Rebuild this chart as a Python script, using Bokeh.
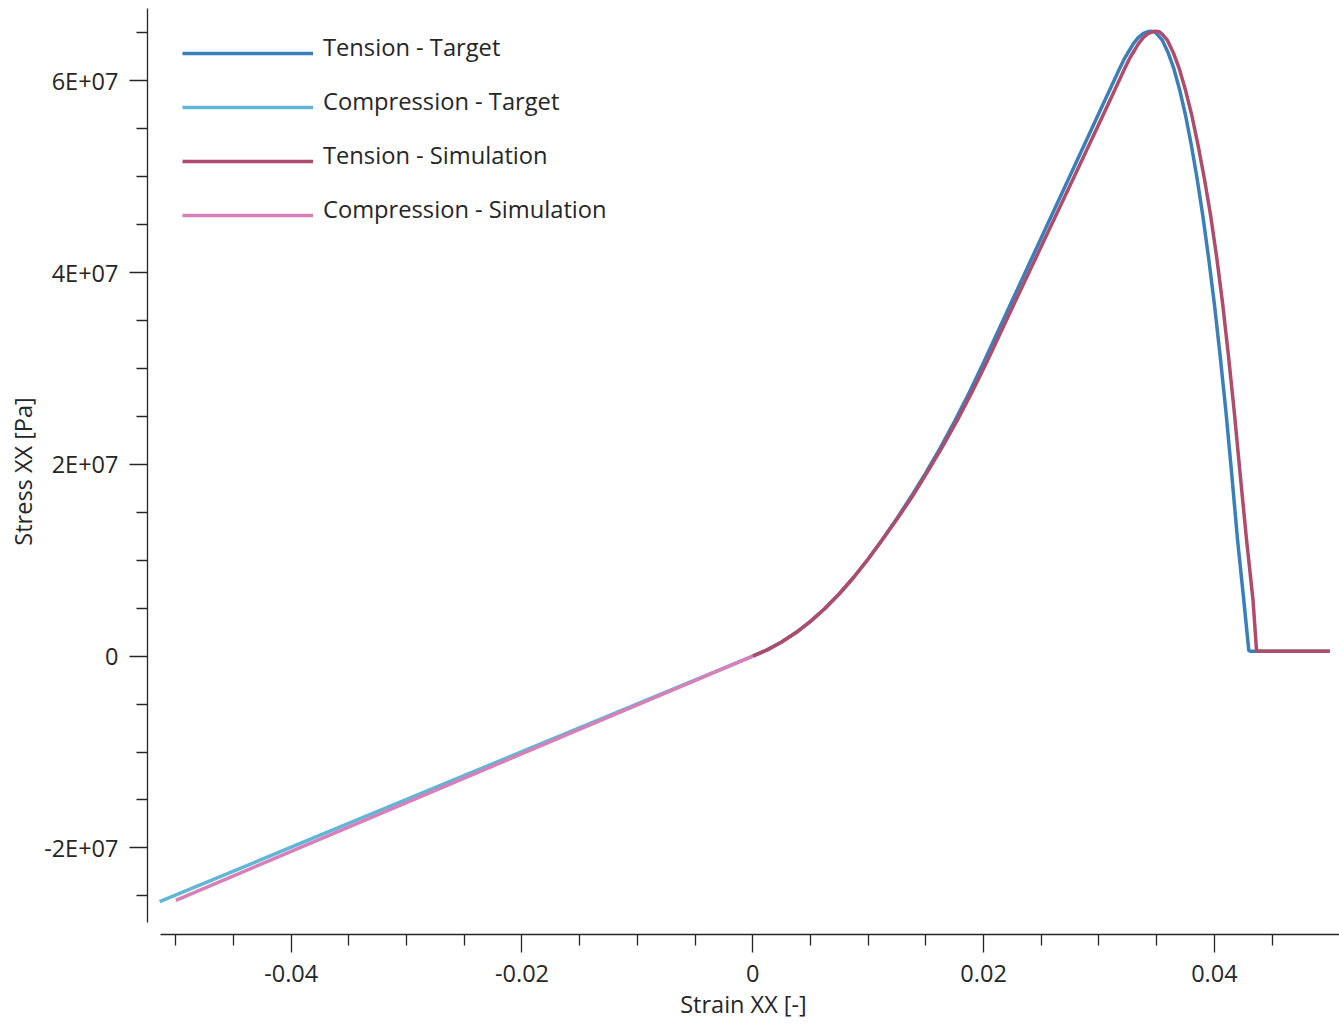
from bokeh.plotting import figure
from bokeh.models import FixedTicker, Legend, LegendItem, Range1d
from bokeh.embed import file_html
from bokeh.resources import INLINE

# ---- data ----
tension_target_strain = [0, 0.00125, 0.0025, 0.00375, 0.005, 0.00625, 0.0075, 0.00875, 0.01, 0.01125,
                         0.0125, 0.01375, 0.015, 0.01625, 0.0175, 0.01875, 0.02, 0.0225, 0.025, 0.0275,
                         0.03, 0.0318, 0.0322, 0.0326, 0.033, 0.0334, 0.0338, 0.0342, 0.03446, 0.0348,
                         0.035, 0.0355, 0.036, 0.0365, 0.037, 0.0375, 0.038, 0.0385, 0.039, 0.0395,
                         0.04, 0.0405, 0.041, 0.0415, 0.042, 0.04255, 0.04298, 0.04313, 0.05]
tension_target_stress = [0, 6.48e5, 1.47e6, 2.46e6, 3.625e6, 4.97e6, 6.5e6, 8.22e6, 1.0125e7, 1.219e7,
                         1.4375e7, 1.669e7, 1.9125e7, 2.172e7, 2.45e7, 2.747e7, 3.0625e7, 3.7125e7, 4.3625e7, 5.0125e7,
                         5.6625e7, 6.13e7, 6.23e7, 6.31e7, 6.39e7, 6.45e7, 6.49e7, 6.51e7, 6.515e7, 6.51e7,
                         6.49e7, 6.42e7, 6.29e7, 6.12e7, 5.90e7, 5.64e7, 5.33e7, 4.98e7, 4.59e7, 4.15e7,
                         3.67e7, 3.13e7, 2.55e7, 1.9e7, 1.22e7, 5.8e6, 6.0e5, 5.0e5, 5.0e5]

tension_sim_strain = [0, 0.00125, 0.0025, 0.00375, 0.005, 0.00625, 0.0075, 0.00875, 0.01, 0.01125,
                      0.01255, 0.01385, 0.0151, 0.01638, 0.01768, 0.01897, 0.02026, 0.0228, 0.02535, 0.0279,
                      0.03044, 0.03224, 0.03264, 0.03304, 0.03344, 0.03384, 0.03424, 0.03464, 0.0349, 0.03524,
                      0.03544, 0.03594, 0.03645, 0.03697, 0.0375, 0.03804, 0.03858, 0.03913, 0.03968, 0.04021,
                      0.04072, 0.04122, 0.04172, 0.04223, 0.04278, 0.04335, 0.04365, 0.04382, 0.05]
tension_sim_stress = [0, 6.48e5, 1.47e6, 2.46e6, 3.625e6, 4.97e6, 6.5e6, 8.22e6, 1.0125e7, 1.219e7,
                      1.4375e7, 1.669e7, 1.9125e7, 2.172e7, 2.45e7, 2.747e7, 3.0625e7, 3.7125e7, 4.3625e7, 5.0125e7,
                      5.6625e7, 6.13e7, 6.23e7, 6.31e7, 6.39e7, 6.45e7, 6.49e7, 6.51e7, 6.515e7, 6.51e7,
                      6.49e7, 6.42e7, 6.29e7, 6.12e7, 5.90e7, 5.64e7, 5.33e7, 4.98e7, 4.59e7, 4.15e7,
                      3.67e7, 3.13e7, 2.55e7, 1.9e7, 1.22e7, 5.8e6, 6.0e5, 5.0e5, 5.0e5]

compression_target_strain = [0, -0.02, -0.04, -0.0514]
compression_target_stress = [0, -9.96e6, -1.993e7, -2.56e7]

compression_sim_strain = [0, -0.02, -0.04, -0.05]
compression_sim_stress = [0, -1.018e7, -2.037e7, -2.546e7]

series_names = ["Tension - Target", "Compression - Target", "Tension - Simulation", "Compression - Simulation"]
series_colors = ["#3a7fba", "#5fb6d6", "#b04c6b", "#d67fb8"]

x_major = [-0.04, -0.02, 0, 0.02, 0.04]
x_labels = ["-0.04", "-0.02", "0", "0.02", "0.04"]
y_major = [-2e7, 0, 2e7, 4e7, 6e7]
y_labels = ["-2E+07", "0", "2E+07", "4E+07", "6E+07"]

FONT = "Open Sans"
TXT = "#262626"
FS_AX = "23.5px"
FS_LEG = "23.7px"

p = figure(width=1339, height=1024, output_backend="svg", toolbar_location=None,
           x_range=Range1d(-0.052452, 0.050841), y_range=Range1d(-2.903e7, 6.753e7),
           min_border_left=147, min_border_right=0, min_border_top=8, min_border_bottom=90)
p.outline_line_color = None
p.grid.visible = False
p.background_fill_color = "white"

data = [
    (tension_target_strain, tension_target_stress),
    (compression_target_strain, compression_target_stress),
    (tension_sim_strain, tension_sim_stress),
    (compression_sim_strain, compression_sim_stress),
]
renderers = []
for (xs, ys), c in zip(data, series_colors):
    r = p.line(xs, ys, line_color=c, line_width=3.5, line_join="round", line_cap="butt")
    renderers.append(r)

x_minor = [round(-0.05 + 0.005 * i, 4) for i in range(20)]
x_minor = [v for v in x_minor if all(abs(v - m) > 1e-9 for m in x_major)]
y_minor = [-2.5e7 + 5e6 * i for i in range(19)]
y_minor = [v for v in y_minor if v not in y_major]

xa = p.xaxis[0]
xa.ticker = FixedTicker(ticks=x_major, minor_ticks=x_minor)
xa.major_label_overrides = {v: s for v, s in zip(x_major, x_labels)}
xa.bounds = (-0.051326, 0.050841)
xa.axis_label = "Strain XX [-]"

ya = p.yaxis[0]
ya.ticker = FixedTicker(ticks=y_major, minor_ticks=y_minor)
ya.major_label_overrides = {v: s for v, s in zip(y_major, y_labels)}
ya.bounds = (-2.775e7, 6.750e7)
ya.axis_label = "Stress XX [Pa]"

for ax in (xa, ya):
    ax.axis_line_color = TXT
    ax.axis_line_width = 1.3
    ax.major_tick_line_color = TXT
    ax.minor_tick_line_color = TXT
    ax.major_tick_line_width = 1.3
    ax.minor_tick_line_width = 1.3
    ax.major_tick_out = 18
    ax.major_tick_in = 0
    ax.minor_tick_out = 11
    ax.minor_tick_in = 0
    ax.major_label_text_font = FONT
    ax.major_label_text_font_size = FS_AX
    ax.major_label_text_color = TXT
    ax.axis_label_text_font = FONT
    ax.axis_label_text_font_size = FS_AX
    ax.axis_label_text_font_style = "normal"
    ax.axis_label_text_color = TXT

xa.major_label_standoff = 12
xa.axis_label_standoff = 3
ya.major_label_standoff = 11
ya.axis_label_standoff = 2

# legend: one legend draws the sample lines, a second one (zero-width glyphs) draws the texts
line_items = [LegendItem(label=" ", renderers=[r]) for r in renderers]
legend_lines = Legend(items=line_items, location=(35, 691.7), orientation="vertical",
                      glyph_width=131, glyph_height=54, spacing=0, padding=0, margin=0,
                      label_standoff=0, label_text_font=FONT, label_text_font_size=FS_LEG,
                      border_line_color=None, background_fill_alpha=0)
text_items = [LegendItem(label=n, renderers=[r]) for n, r in zip(series_names, renderers)]
legend_text = Legend(items=text_items, location=(35, 698.3), orientation="vertical",
                     glyph_width=0, glyph_height=54, spacing=0, padding=0, margin=0,
                     label_standoff=141, label_text_font=FONT, label_text_font_size=FS_LEG,
                     label_text_color=TXT, border_line_color=None, background_fill_alpha=0)
p.add_layout(legend_lines, "center")
p.add_layout(legend_text, "center")

open("out.html", "w").write(file_html(p, INLINE))
